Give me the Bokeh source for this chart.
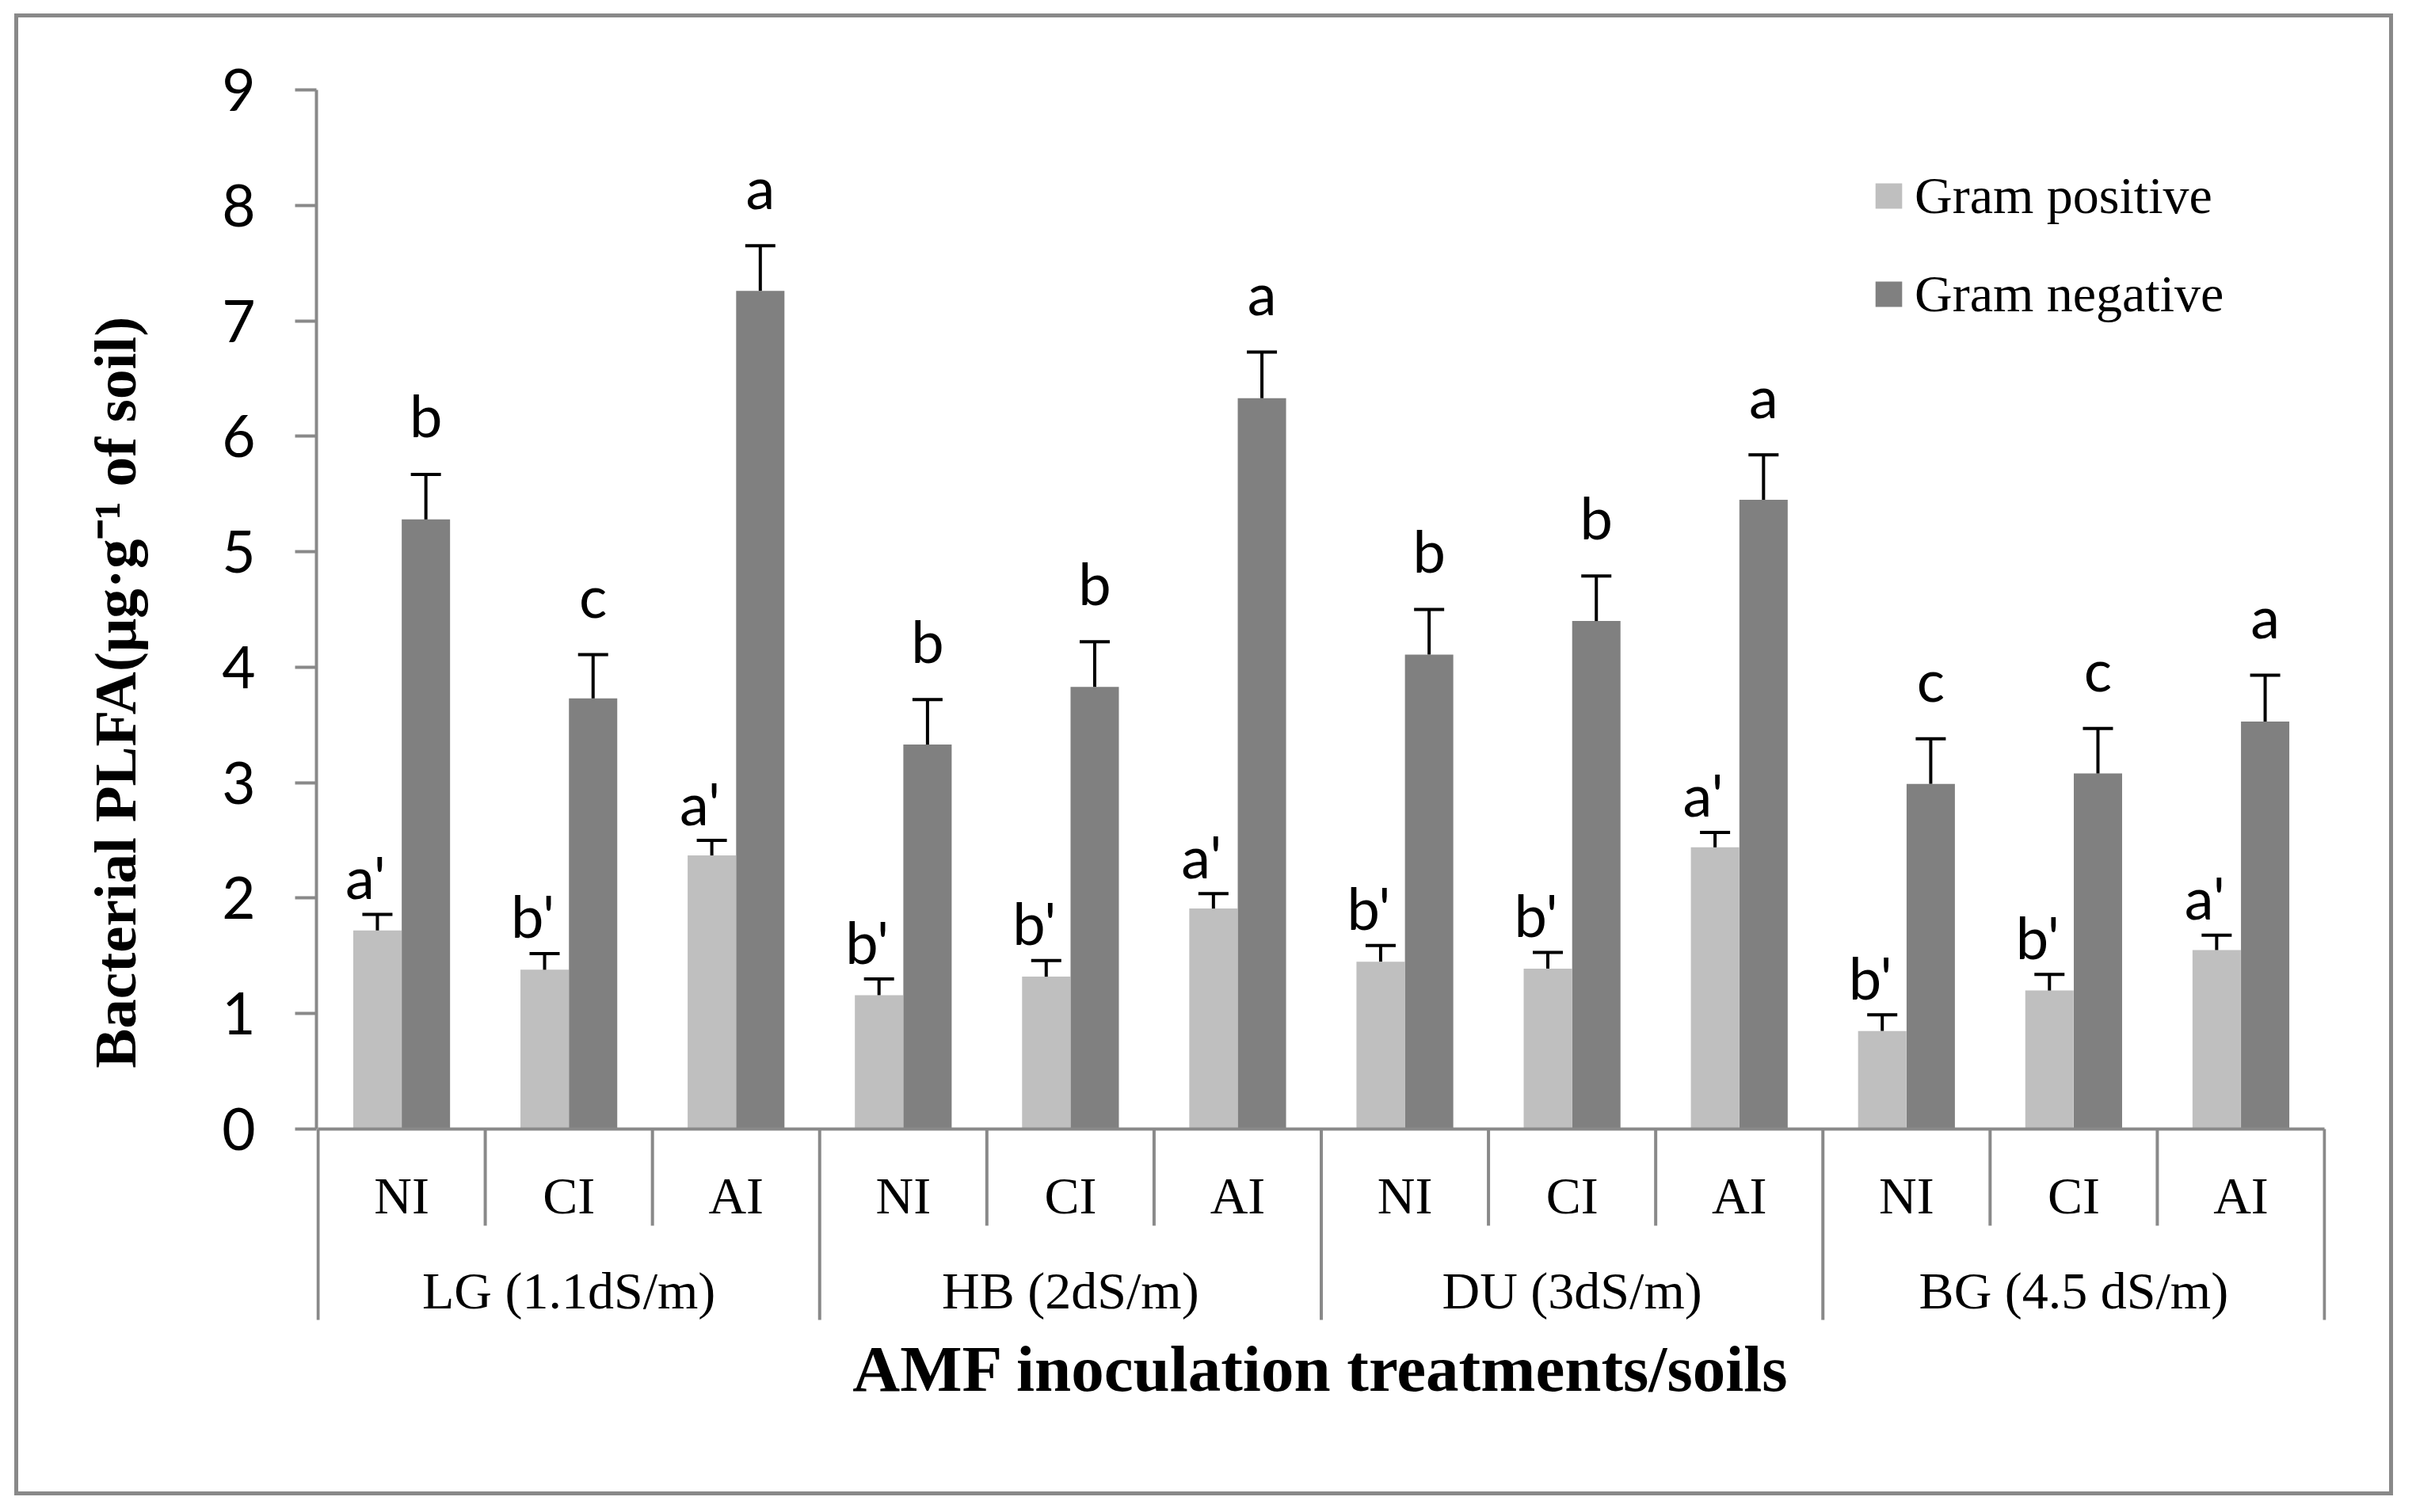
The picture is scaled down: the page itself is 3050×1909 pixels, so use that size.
import numpy as np
from bokeh.plotting import figure
from bokeh.models import (Range1d, LinearAxis, FixedTicker, Whisker, TeeHead,
                          ColumnDataSource, Legend, LegendItem)
from bokeh.core.properties import value
from bokeh.embed import file_html
from bokeh.resources import INLINE

# ---------------- data ----------------
groups = ["LG (1.1dS/m)", "HB (2dS/m)", "DU (3dS/m)", "BG (4.5 dS/m)"]
treatments = ["NI", "CI", "AI"]
gram_pos = [1.72, 1.38, 2.37, 1.16, 1.32, 1.91, 1.45, 1.39, 2.44, 0.85, 1.20, 1.55]
gram_pos_err = [0.14, 0.14, 0.13, 0.14, 0.14, 0.13, 0.14, 0.14, 0.13, 0.14, 0.14, 0.13]
gram_neg = [5.28, 3.73, 7.26, 3.33, 3.83, 6.33, 4.11, 4.40, 5.45, 2.99, 3.08, 3.53]
gram_neg_err = [0.39, 0.38, 0.39, 0.39, 0.39, 0.40, 0.39, 0.39, 0.39, 0.39, 0.39, 0.40]
pos_letters = ["a'", "b'", "a'", "b'", "b'", "a'", "b'", "b'", "a'", "b'", "b'", "a'"]
neg_letters = ["b", "c", "a", "b", "b", "a", "b", "b", "a", "c", "c", "a"]
y_ticks = [0, 1, 2, 3, 4, 5, 6, 7, 8, 9]
series_names = ["Gram positive", "Gram negative"]
y_title = "\u00a0\u00a0Bacterial PLFA(\u03bcg\u00b7g\u207b\u00b9 of soil)"
x_title = "AMF inoculation treatments/soils"

# ---------------- layout / style ----------------
GRAY = "#898989"
LIGHT = "#BFBFBF"
DARK = "#808080"
SERIF = "Liberation Serif"
SANS = "Lato"

W, H = 3030, 1895
n_tr = len(treatments)
n = len(groups) * n_tr
PXU = 211.08                 # px per category
PYU = 145.79                 # px per value unit
x_pad = 2.0 / PXU
y_min = -1.694

# chart-area border (drawn as four CSS lines behind the transparent canvas border)
BL, BT, BR, BB, BW = 18, 17, 3016, 1883, 5
g = "linear-gradient({0},{0})".format(GRAY)
border_styles = {
    "background-color": "white",
    "background-image": ", ".join([g] * 4),
    "background-repeat": "no-repeat",
    "background-position": f"{BL}px {BT}px, {BL}px {BB}px, {BL}px {BT}px, {BR}px {BT}px",
    "background-size": (f"{BR - BL + BW}px {BW}px, {BR - BL + BW}px {BW}px, "
                        f"{BW}px {BB - BT + BW}px, {BW}px {BB - BT + BW}px"),
}

p = figure(width=W, height=H,
           x_range=Range1d(-x_pad, n + x_pad), y_range=Range1d(y_min, max(y_ticks)),
           output_backend="svg", toolbar_location=None,
           x_axis_location=None, y_axis_location=None,
           min_border_left=399, min_border_right=94,
           min_border_top=113, min_border_bottom=223,
           background_fill_color="white",
           border_fill_color=None, border_fill_alpha=0,
           styles=border_styles)
p.outline_line_color = None
p.xgrid.visible = False
p.ygrid.visible = False

centers = np.arange(n) + 0.5
dodge = 0.145
bar_w = 0.289

pos_arr = np.array(gram_pos)
neg_arr = np.array(gram_neg)
pos_up = pos_arr + np.array(gram_pos_err)
neg_up = neg_arr + np.array(gram_neg_err)

src_pos = ColumnDataSource(dict(x=centers - dodge, top=pos_arr, upper=pos_up,
                                ly=pos_up + 48 / PYU, lab=pos_letters))
src_neg = ColumnDataSource(dict(x=centers + dodge, top=neg_arr, upper=neg_up,
                                ly=neg_up + 75 / PYU, lab=neg_letters))

r_pos = p.vbar(x="x", top="top", bottom=0, width=bar_w, source=src_pos,
               fill_color=LIGHT, line_color=None)
r_neg = p.vbar(x="x", top="top", bottom=0, width=bar_w, source=src_neg,
               fill_color=DARK, line_color=None)

for src in (src_pos, src_neg):
    wk = Whisker(source=src, base="x", lower="top", upper="upper", dimension="height",
                 line_color="black", line_width=4,
                 upper_head=TeeHead(size=38, line_width=4, line_color="black"),
                 lower_head=None, level="overlay")
    p.add_layout(wk)

# significance letters
p.text(x="x", y="ly", text="lab", source=src_pos, text_font=value(SANS),
       text_font_size="74px", text_align="center", text_baseline="alphabetic",
       x_offset=-15, text_color="black")
p.text(x="x", y="ly", text="lab", source=src_neg, text_font=value(SANS),
       text_font_size="74px", text_align="center", text_baseline="alphabetic",
       text_color="black")

# category axis drawn as in the spreadsheet: baseline, dividers, two label rows
short_x = [i for i in range(1, n) if i % n_tr != 0]
group_x = [i for i in range(0, n + 1) if i % n_tr == 0]
p.segment(x0=short_x, y0=0, x1=short_x, y1=-122 / PYU, line_color=GRAY, line_width=4)
p.segment(x0=group_x, y0=0, x1=group_x, y1=-241 / PYU, line_color=GRAY, line_width=4)
p.segment(x0=[0], y0=[0], x1=[n], y1=[0], line_color=GRAY, line_width=4)

tr_labels = [t for _ in groups for t in treatments]
p.text(x=centers, y=-84 / PYU, text=tr_labels, text_font=value(SERIF),
       text_font_size="66px", text_align="center", text_baseline="alphabetic",
       text_color="black")
group_centers = np.arange(len(groups)) * n_tr + n_tr / 2
p.text(x=group_centers, y=-204 / PYU, text=groups, text_font=value(SERIF),
       text_font_size="66px", text_align="center", text_baseline="alphabetic",
       text_color="black")

# y axis
yaxis = LinearAxis(ticker=FixedTicker(ticks=y_ticks), bounds=(0, max(y_ticks)),
                   axis_line_color=GRAY, axis_line_width=4,
                   major_tick_line_color=GRAY, major_tick_line_width=4,
                   major_tick_out=27, major_tick_in=0, minor_tick_line_color=None,
                   major_label_text_font=SANS, major_label_text_font_size="73px",
                   major_label_text_color="black", major_label_standoff=50,
                   axis_label=y_title, axis_label_text_font=SERIF,
                   axis_label_text_font_style="bold", axis_label_text_font_size="75px",
                   axis_label_text_color="black", axis_label_standoff=90)
p.add_layout(yaxis, "left")

# x axis (title only; category labels drawn above)
xaxis = LinearAxis(ticker=FixedTicker(ticks=[]), axis_line_color=None,
                   major_tick_line_color=None, minor_tick_line_color=None,
                   major_tick_out=0, major_tick_in=0, major_label_standoff=0,
                   axis_label=x_title, axis_label_text_font=SERIF,
                   axis_label_text_font_style="bold", axis_label_text_font_size="83px",
                   axis_label_text_color="black", axis_label_standoff=9)
p.add_layout(xaxis, "below")

legend = Legend(items=[LegendItem(label=series_names[0], renderers=[r_pos]),
                       LegendItem(label=series_names[1], renderers=[r_neg])],
                location=(1964, 1263), orientation="vertical",
                padding=0, margin=0, spacing=48,
                glyph_width=42, glyph_height=40, label_height=40, label_standoff=12,
                label_text_font=SERIF, label_text_font_size="66px",
                label_text_color="black",
                border_line_color=None, background_fill_alpha=0)
p.add_layout(legend)

open("out.html", "w").write(file_html(p, INLINE))
